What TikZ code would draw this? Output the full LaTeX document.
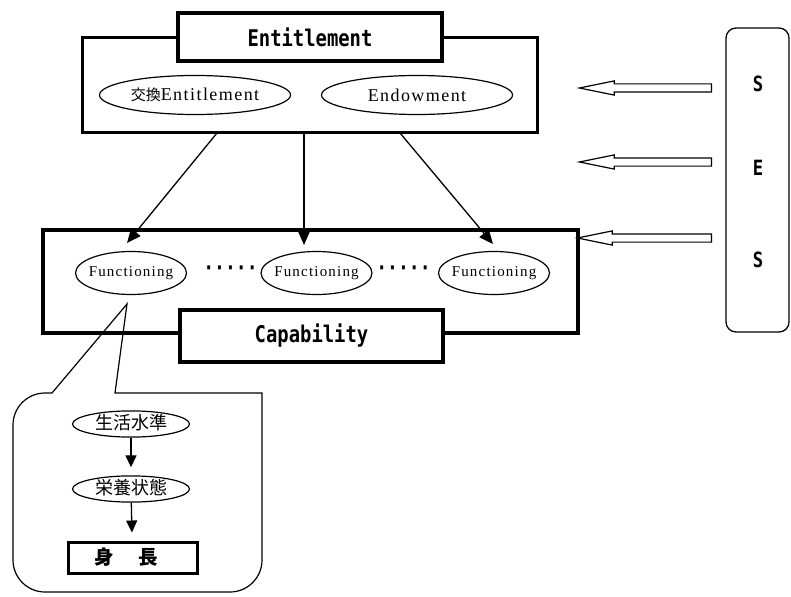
\documentclass[tikz,border=0pt]{standalone}
\usepackage{fontspec}
\usepackage{tikz}
\usetikzlibrary{arrows.meta, shapes.geometric, shapes.arrows}
\newfontfamily\gothic[FakeStretch=0.82]{DejaVu Sans Mono}
\newfontfamily\mincho[LetterSpace=8]{Liberation Serif}
\newfontfamily\cjk{Noto Sans CJK JP}

\begin{document}
\begin{tikzpicture}[
  x=1pt, y=-1pt,
  bigbox/.style={draw, inner sep=0pt},
  titlebox/.style={
    draw, fill=white, inner sep=0pt,
    font=\gothic\bfseries\fontsize{23}{23}\selectfont
  },
  oval/.style={ellipse, draw, line width=1.2pt, inner sep=0pt},
  entoval/.style={
    oval, minimum width=191pt, minimum height=39pt, inner xsep=-5pt,
    font=\mincho\fontsize{18}{18}\selectfont
  },
  fnc/.style={
    oval, minimum width=111pt, minimum height=43pt, inner xsep=-4pt,
    font=\mincho\fontsize{15}{15}\selectfont
  },
  suboval/.style={
    oval, minimum width=117pt, text height=15pt, text depth=3.5pt, inner xsep=-1pt,
    font=\cjk\fontsize{18}{18}\selectfont
  },
  dots/.style={inner sep=0pt, font=\gothic\bfseries\fontsize{22}{22}\selectfont},
  sesletter/.style={inner sep=0pt, font=\gothic\bfseries\fontsize{21}{21}\selectfont},
  arr/.style={-{Triangle[length=14pt,width=12pt]}, line width=1.3pt},
  subarr/.style={-{Triangle[length=12pt,width=11pt]}, line width=1.3pt, shorten >=8pt},
  hollowarr/.style={
    single arrow, draw, line width=1.2pt, shape border rotate=180,
    minimum height=132pt, minimum width=13pt, inner sep=0pt, inner ysep=3.5pt,
    single arrow head extend=3pt, single arrow tip angle=23
  }
]
  \useasboundingbox (0,0) rectangle (791,596);

  % Entitlement
  \node[bigbox, line width=3pt, minimum width=455pt, minimum height=95pt] (entbox) at (309.5,85.5) {};
  \node[titlebox, line width=3.5pt, minimum width=264pt, minimum height=48pt] (enttitle) at (310,37) {Entitlement};
  \node[entoval] (exch) at (195,95) {{\cjk\fontsize{15}{15}\selectfont 交換}Entitlement};
  \node[entoval] (endow) at (417,95) {Endowment};

  % Capability
  \node[bigbox, line width=4.5pt, minimum width=535pt, minimum height=103pt] (capbox) at (310.5,281.5) {};
  \node[titlebox, line width=4pt, minimum width=263pt, minimum height=52pt] (captitle) at (311.5,336) {Capability};
  \node[fnc] (func1) at (131,273) {Functioning};
  \node[fnc] (func2) at (316.5,273) {Functioning};
  \node[fnc] (func3) at (494,273) {Functioning};
  \node[dots] (dots1) at (230.5,271) {·····};
  \node[dots] (dots2) at (403.5,271) {·····};

  % arrows Entitlement -> Functioning
  \coordinate (e1) at (217,133);
  \coordinate (e2) at (304,133);
  \coordinate (e3) at (400,133);
  \coordinate (t1) at (127,243);
  \coordinate (t2) at (304,245);
  \coordinate (t3) at (493,244);
  \draw[arr] (e1) -- (t1);
  \draw[arr] (e2) -- (t2);
  \draw[arr] (e3) -- (t3);

  % SES
  \node[draw, line width=1.3pt, rounded corners=10pt, minimum width=63pt, minimum height=304pt] (ses) at (757.5,180) {};
  \node[sesletter] (sesS1) at (758,84) {S};
  \node[sesletter] (sesE) at (758,168) {E};
  \node[sesletter] (sesS2) at (758,260) {S};
  \node[hollowarr, anchor=tail] (h1) at (712,88) {};
  \node[hollowarr, anchor=tail] (h2) at (712,162) {};
  \node[hollowarr, anchor=tail, minimum height=134pt] (h3) at (712,238) {};

  % callout
  \coordinate (apex) at (127,304);
  \coordinate (p1) at (52,393);
  \coordinate (p2) at (115,393);
  \draw[line width=1.2pt] (p1) -- (apex) -- (p2) -- (262,393)
    [rounded corners=32pt] -- (262,592) -- (13,592) -- (13,393) -- (p1);
  \node[suboval] (life) at (131,424) {生活水準};
  \node[suboval] (nutr) at (131,489) {栄養状態};
  \node[bigbox, line width=3pt, minimum height=31pt, inner xsep=26pt, text width=77pt, align=left,
    font=\cjk\bfseries\fontsize{19.5}{19.5}\selectfont] (height) at (132.5,557.5) {身\hspace{25pt}長};
  \draw[subarr] (life) -- (nutr);
  \draw[subarr] (nutr) -- (height);
\end{tikzpicture}
\end{document}
